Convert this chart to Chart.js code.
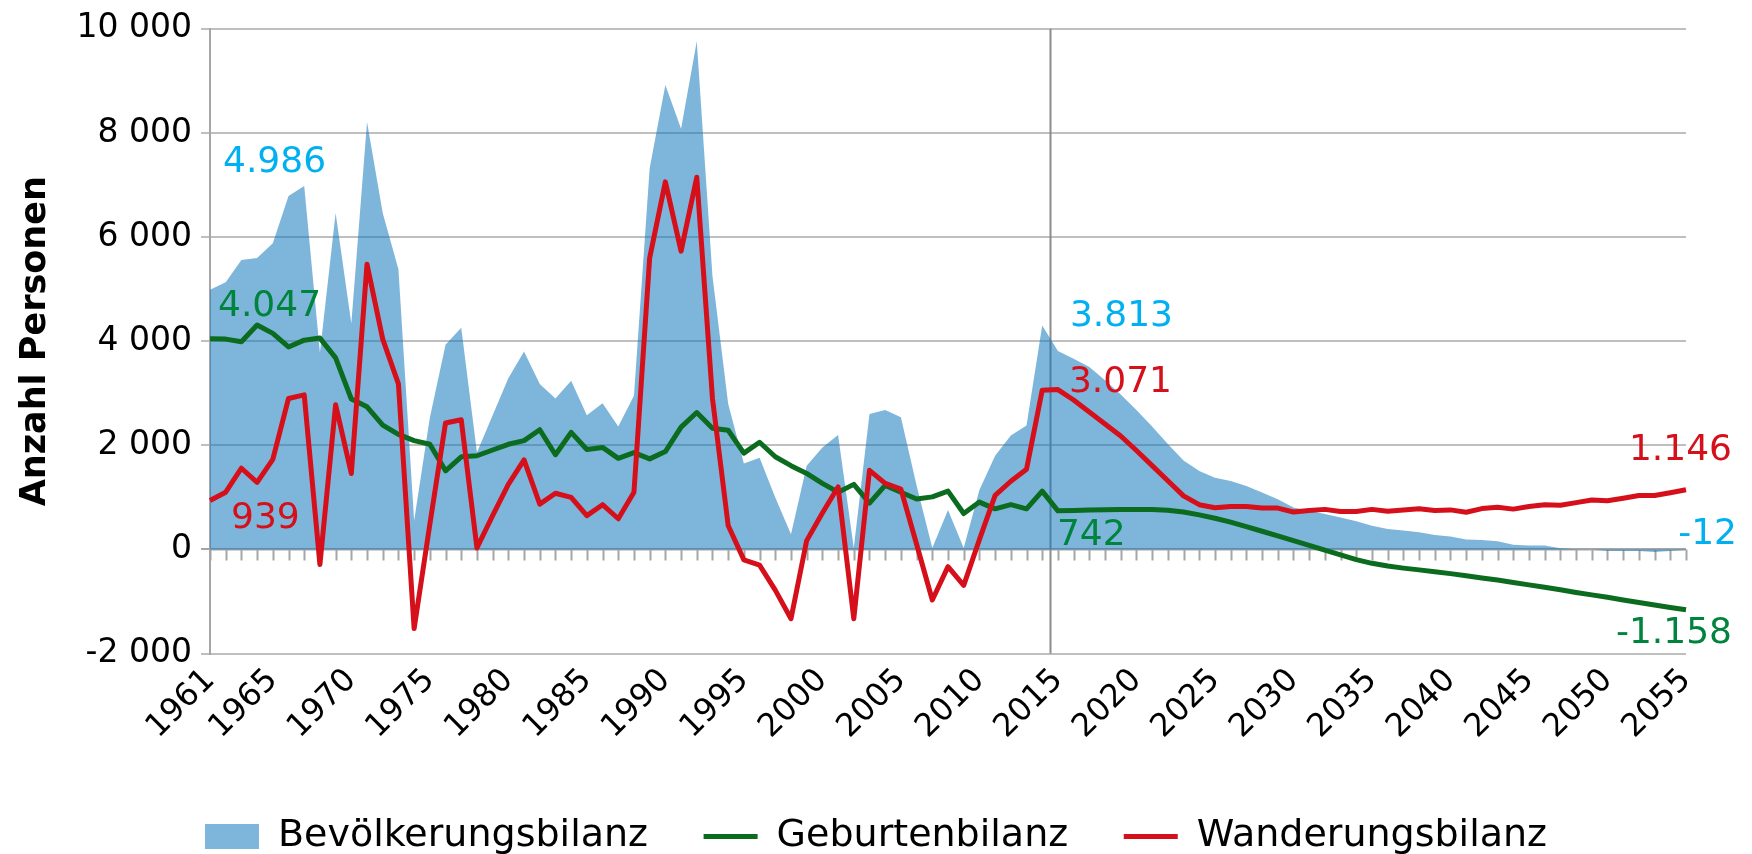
<!DOCTYPE html>
<html>
<head>
<meta charset="utf-8">
<script src="https://cdn.jsdelivr.net/npm/chart.js@4.4.1/dist/chart.umd.min.js"></script>
<style>
  html, body { margin: 0; padding: 0; background: #fff; }
  #wrap { width: 1752px; height: 854px; }
</style>
</head>
<body>
<div id="wrap"><canvas id="bilanzChart"></canvas></div>
<script>
// years on the category axis
const years = [
  1961, 1962, 1963, 1964, 1965, 1966, 1967, 1968, 1969, 1970,
  1971, 1972, 1973, 1974, 1975, 1976, 1977, 1978, 1979, 1980,
  1981, 1982, 1983, 1984, 1985, 1986, 1987, 1988, 1989, 1990,
  1991, 1992, 1993, 1994, 1995, 1996, 1997, 1998, 1999, 2000,
  2001, 2002, 2003, 2004, 2005, 2006, 2007, 2008, 2009, 2010,
  2011, 2012, 2013, 2014, 2015, 2016, 2017, 2018, 2019, 2020,
  2021, 2022, 2023, 2024, 2025, 2026, 2027, 2028, 2029, 2030,
  2031, 2032, 2033, 2034, 2035, 2036, 2037, 2038, 2039, 2040,
  2041, 2042, 2043, 2044, 2045, 2046, 2047, 2048, 2049, 2050,
  2051, 2052, 2053, 2054, 2055
];

// Bevölkerungsbilanz (area)
const bevoelkerung = [
  4986, 5130, 5560, 5600, 5880, 6790, 6980, 3780, 6460, 4340,
  8210, 6460, 5380, 550, 2530, 3930, 4260, 1860, 2580, 3290,
  3800, 3180, 2900, 3240, 2580, 2810, 2360, 2950, 7320, 8920,
  8080, 9760, 5250, 2800, 1650, 1760, 1000, 290, 1610, 1960,
  2200, 30, 2600, 2680, 2540, 1230, 30, 760, 30, 1140,
  1800, 2190, 2380, 4300, 3813, 3664, 3505, 3251, 2978, 2680,
  2362, 2026, 1708, 1505, 1378, 1314, 1219, 1092, 965, 806,
  743, 679, 616, 540, 457, 394, 362, 330, 279, 248,
  190, 184, 159, 89, 76, 76, 25, 6, 0, -30,
  -30, -30, -50, -30, -12
];

// Geburtenbilanz
const geburten = [
  4047, 4040, 3990, 4310, 4150, 3890, 4020, 4060, 3680, 2890,
  2740, 2390, 2210, 2090, 2020, 1510, 1780, 1800, 1910, 2020,
  2090, 2300, 1820, 2250, 1920, 1960, 1750, 1860, 1740, 1880,
  2350, 2630, 2330, 2290, 1850, 2060, 1780, 1610, 1460, 1270,
  1100, 1250, 890, 1230, 1100, 970, 1010, 1120, 690, 910,
  780, 860, 780, 1120, 742, 750, 758, 764, 768, 770,
  766, 755, 720, 665, 600, 525, 440, 350, 260, 170,
  78, -14, -105, -196, -266, -318, -358, -392, -426, -464,
  -503, -548, -588, -634, -680, -727, -774, -826, -872, -918,
  -970, -1020, -1068, -1113, -1158
];

// Wanderungsbilanz
const wanderung = [
  939, 1100, 1560, 1290, 1730, 2900, 2970, -290, 2780, 1460,
  5480, 4040, 3180, -1520, 480, 2430, 2490, 30, 650, 1250,
  1720, 870, 1080, 1000, 650, 860, 590, 1100, 5600, 7060,
  5730, 7150, 2900, 460, -200, -300, -780, -1330, 170, 700,
  1200, -1330, 1520, 1270, 1160, 100, -970, -330, -690, 190,
  1040, 1310, 1540, 3060, 3071, 2870, 2640, 2410, 2180, 1900,
  1610, 1320, 1030, 860, 800, 825, 825, 795, 795, 720,
  750, 770, 730, 730, 770, 735, 760, 780, 750, 760,
  715, 785, 810, 775, 825, 860, 850, 900, 950, 935,
  985, 1035, 1035, 1090, 1146
];

const seriesNames = ['Bevölkerungsbilanz', 'Geburtenbilanz', 'Wanderungsbilanz'];
const labelYears = [1961, 1965, 1970, 1975, 1980, 1985, 1990, 1995, 2000, 2005,
  2010, 2015, 2020, 2025, 2030, 2035, 2040, 2045, 2050, 2055];
const markedYear = 2015;

const FONT = '"DejaVu Sans", "Noto Sans", sans-serif';
const AREA_BLUE = 'rgba(20, 120, 188, 0.55)';
const GREEN = '#0B6B1E';
const RED = '#D5101B';
const GRID = '#BFBFBF';
const AXIS = '#A6A6A6';

// which values get a text label, and where it sits next to its point
const valueLabels = [
  { ds: 0, year: 1961, color: '#00B0F0', dx: 13, dy: -127, align: 'left' },
  { ds: 1, year: 1961, color: '#00843D', dx: 8, dy: -32, align: 'left' },
  { ds: 2, year: 1961, color: '#D5101B', dx: 21, dy: 18, align: 'left' },
  { ds: 0, year: 2015, color: '#00B0F0', dx: 12, dy: -34, align: 'left' },
  { ds: 2, year: 2015, color: '#D5101B', dx: 11, dy: -7, align: 'left' },
  { ds: 1, year: 2015, color: '#00843D', dx: -1, dy: 25, align: 'left' },
  { ds: 2, year: 2055, color: '#D5101B', dx: 46, dy: -39, align: 'right' },
  { ds: 0, year: 2055, color: '#00B0F0', dx: 51, dy: -15, align: 'right' },
  { ds: 1, year: 2055, color: '#00843D', dx: 46, dy: 24, align: 'right' }
];

function groupDigits(v, sep) {
  const s = Math.abs(v).toString().replace(/\B(?=(\d{3})+(?!\d))/g, sep);
  return (v < 0 ? '-' : '') + s;
}

// zero axis with yearly tick marks, and the vertical marker line
const axisExtras = {
  id: 'axisExtras',
  beforeDatasetsDraw(chart) {
    const { ctx, chartArea, scales } = chart;
    const x = scales.x, y = scales.y;
    const y0 = y.getPixelForValue(0);
    ctx.save();
    ctx.strokeStyle = AXIS;
    ctx.lineWidth = 2;
    ctx.beginPath();
    ctx.moveTo(chartArea.left, y0);
    ctx.lineTo(chartArea.right, y0);
    years.forEach((yr, i) => {
      const px = Math.round(x.getPixelForValue(i)) + 0.5;
      ctx.moveTo(px, y0);
      ctx.lineTo(px, y0 + 11);
    });
    ctx.stroke();

    const i15 = years.indexOf(markedYear);
    const vx = Math.round((x.getPixelForValue(i15 - 1) + x.getPixelForValue(i15)) / 2) + 0.5;
    ctx.strokeStyle = '#8C8C8C';
    ctx.beginPath();
    ctx.moveTo(vx, chartArea.top);
    ctx.lineTo(vx, chartArea.bottom);
    ctx.stroke();
    ctx.restore();
  },
  afterDatasetsDraw(chart) {
    const { ctx } = chart;
    ctx.save();
    ctx.font = '36px ' + FONT;
    ctx.textBaseline = 'middle';
    valueLabels.forEach(l => {
      const i = years.indexOf(l.year);
      const pt = chart.getDatasetMeta(l.ds).data[i];
      const v = chart.data.datasets[l.ds].data[i];
      ctx.fillStyle = l.color;
      ctx.textAlign = l.align;
      ctx.fillText(groupDigits(v, '.'), pt.x + l.dx, pt.y + l.dy);
    });
    ctx.restore();
  }
};

const ctx = document.getElementById('bilanzChart').getContext('2d');
const bilanzChart = new Chart(ctx, {
  type: 'line',
  data: {
    labels: years,
    datasets: [
      {
        label: seriesNames[0],
        data: bevoelkerung,
        fill: 'origin',
        backgroundColor: AREA_BLUE,
        borderColor: AREA_BLUE,
        borderWidth: 0,
        pointRadius: 0,
        pointStyle: 'rect',
        tension: 0,
        order: 3
      },
      {
        label: seriesNames[1],
        data: geburten,
        fill: false,
        borderColor: GREEN,
        backgroundColor: GREEN,
        borderWidth: 5,
        borderJoinStyle: 'round',
        pointRadius: 0,
        pointStyle: 'line',
        tension: 0,
        order: 2
      },
      {
        label: seriesNames[2],
        data: wanderung,
        fill: false,
        borderColor: RED,
        backgroundColor: RED,
        borderWidth: 5,
        borderJoinStyle: 'round',
        pointRadius: 0,
        pointStyle: 'line',
        tension: 0,
        order: 1
      }
    ]
  },
  options: {
    responsive: true,
    maintainAspectRatio: false,
    animation: false,
    layout: { padding: { top: 25, bottom: -11.5, left: 0, right: 0 } },
    plugins: {
      tooltip: { enabled: false },
      legend: {
        position: 'bottom',
        labels: {
          usePointStyle: true,
          pointStyleWidth: 54,
          boxHeight: 25,
          padding: 10,
          color: '#000',
          font: { family: FONT, size: 38 },
          generateLabels: chart => {
            const items = Chart.defaults.plugins.legend.labels.generateLabels(chart);
            items.sort((a, b) => a.datasetIndex - b.datasetIndex);
            // wider gap between entries, as in the original
            items.forEach((it, i) => {
              if (i < items.length - 1) it.text = it.text + '\u2003\u2009';
            });
            return items;
          }
        }
      }
    },
    scales: {
      x: {
        type: 'category',
        offset: false,
        grid: { display: false, drawTicks: false },
        border: { display: false },
        afterBuildTicks: s => {
          s.ticks = s.ticks.filter(t => labelYears.includes(years[t.value]));
        },
        afterFit: s => { s.height = 153.9; },
        ticks: {
          autoSkip: false,
          minRotation: 45,
          maxRotation: 45,
          padding: 8,
          color: '#000',
          font: { family: FONT, size: 32 }
        }
      },
      y: {
        min: -2000,
        max: 10000,
        afterFit: s => { s.width = 210; },
        grid: {
          color: c => (c.tick && c.tick.value === 0 ? AXIS : GRID),
          lineWidth: 2,
          tickLength: 9,
          drawTicks: true
        },
        border: { display: true, color: AXIS, width: 2 },
        ticks: {
          stepSize: 2000,
          padding: 9,
          color: '#000',
          font: { family: FONT, size: 33 },
          callback: v => groupDigits(v, ' ')
        },
        title: {
          display: true,
          text: 'Anzahl Personen',
          color: '#000',
          font: { family: FONT, size: 35, weight: 'bold' },
          padding: { top: 15, bottom: 0 }
        }
      },
      yRight: {
        position: 'right',
        display: true,
        min: 0,
        max: 1,
        grid: { display: false, drawTicks: false },
        border: { display: false },
        ticks: { display: false },
        afterFit: s => { s.width = 66; }
      }
    }
  },
  plugins: [axisExtras]
});
</script>
</body>
</html>
